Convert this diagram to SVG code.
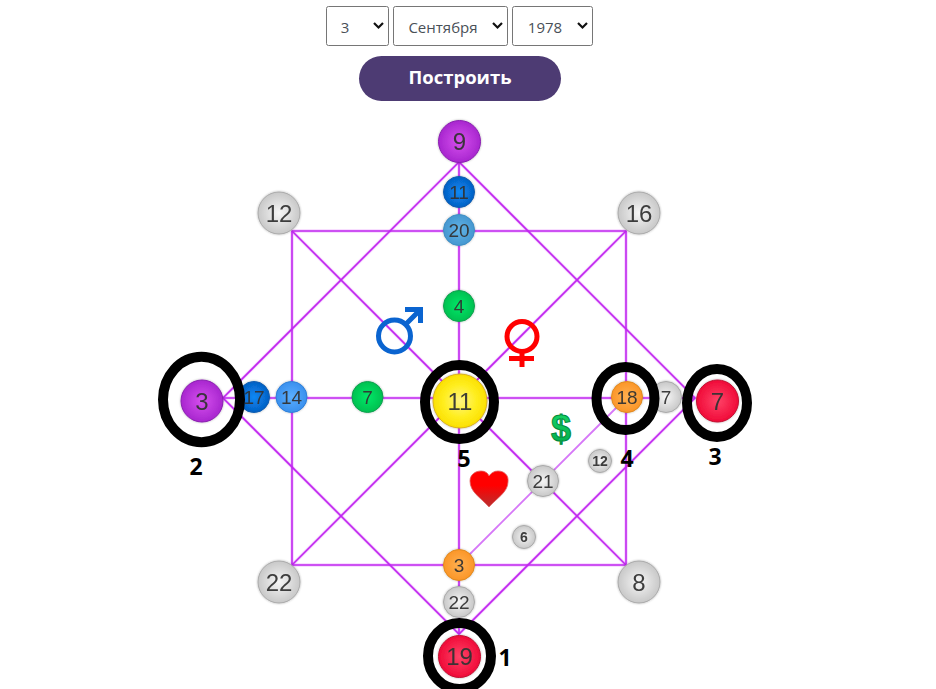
<svg xmlns="http://www.w3.org/2000/svg" width="936" height="689" viewBox="0 0 936 689">
<style>
text{font-family:"Liberation Sans",Arial,sans-serif;text-anchor:middle}
.sel{fill:#fff;stroke:#767676;stroke-width:1}
.st{font-family:"Open Sans",sans-serif;font-size:15px;fill:#495057}
.chev{fill:none;stroke:#111;stroke-width:2.2}
.btn{font-family:"Open Sans",sans-serif;font-weight:700;font-size:18.500px;fill:#fff}
.n{fill:#333;fill-opacity:.95}
.ring{fill:none;stroke:#000;stroke-width:10}
.lab{font-family:"Open Sans",sans-serif;font-weight:700;font-size:23px;fill:#000}
.l{stroke:#c026ef;stroke-width:1.600;fill:none}
.h{stroke:#e070ff;stroke-width:3.500;fill:none;opacity:.3}
.ball{stroke-width:1}
.gray{fill:url(#gGray);stroke:#aaa}
.purple{fill:url(#gPurple);stroke:#8a1fb0}
.blue{fill:url(#gBlue);stroke:#0a5cb0}
.lblue{fill:url(#gLBlue);stroke:#2f80d8}
.sblue{fill:url(#gSBlue);stroke:#3f8fc4}
.green{fill:url(#gGreen);stroke:#10a050}
.yellow{fill:url(#gYellow);stroke:#d8b020}
.orange{fill:url(#gOrange);stroke:#e08a20}
.red{fill:url(#gRed);stroke:#c01030}
</style>
<defs>
<radialGradient id="gGray"><stop offset="0" stop-color="#f6f6f6"/><stop offset="1" stop-color="#c8c8c8"/></radialGradient>
<radialGradient id="gPurple"><stop offset="0" stop-color="#d650ee"/><stop offset="1" stop-color="#a826cf"/></radialGradient>
<radialGradient id="gBlue"><stop offset="0" stop-color="#0a88f4"/><stop offset="1" stop-color="#0560c4"/></radialGradient>
<radialGradient id="gLBlue"><stop offset="0" stop-color="#5aaeff"/><stop offset="1" stop-color="#3a90ee"/></radialGradient>
<radialGradient id="gSBlue"><stop offset="0" stop-color="#62b4e6"/><stop offset="1" stop-color="#4597d0"/></radialGradient>
<radialGradient id="gGreen"><stop offset="0" stop-color="#00e868"/><stop offset="1" stop-color="#00c050"/></radialGradient>
<radialGradient id="gYellow"><stop offset="0" stop-color="#fff480"/><stop offset=".6" stop-color="#ffee20"/><stop offset="1" stop-color="#fbe000"/></radialGradient>
<radialGradient id="gOrange"><stop offset="0" stop-color="#ffb050"/><stop offset="1" stop-color="#fb9628"/></radialGradient>
<radialGradient id="gRed"><stop offset="0" stop-color="#ff4468"/><stop offset="1" stop-color="#f00a38"/></radialGradient>
<linearGradient id="gHeart" x1="0" y1="0" x2="0" y2="1"><stop offset=".4" stop-color="#ff0000"/><stop offset="1" stop-color="#b83030"/></linearGradient>
<linearGradient id="gDollar" x1="0" y1="0" x2="0" y2="1"><stop offset="0" stop-color="#18d868"/><stop offset="1" stop-color="#00a848"/></linearGradient>
<filter id="sh" x="-20%" y="-20%" width="140%" height="140%"><feDropShadow dx="0" dy="0" stdDeviation="1" flood-color="#000" flood-opacity=".3"/></filter>
</defs>

<g id="form">
<rect class="sel" x="326.500" y="6.500" width="62" height="39" rx="2"/>
<text class="st" x="345" y="33">3</text><path class="chev" d="M374 23l4.500 4.500 4.500-4.500"/>
<rect class="sel" x="393.500" y="6.500" width="114" height="39" rx="2"/>
<text class="st" x="443" y="33">Сентября</text><path class="chev" d="M493 23l4.500 4.500 4.500-4.500"/>
<rect class="sel" x="512.500" y="6.500" width="80" height="39" rx="2"/>
<text class="st" x="545" y="33">1978</text><path class="chev" d="M578 23l4.500 4.500 4.500-4.500"/>
</g>
<g id="button">
<rect x="359" y="56" width="202" height="45" rx="22.500" fill="#4d3b73"/>
<text class="btn" x="460" y="84">Построить</text>
</g>

<g id="connectors">
<path class="h" d="M292 231H626V565H292Z"/>
<path class="h" d="M459 162L223 398L459 634L695 398Z"/>
<path class="h" d="M292 231L626 565M626 231L292 565M459 162V634M223 398H695"/>
<path class="l" d="M292 231H626V565H292Z"/>
<path class="l" d="M459 162L223 398L459 634L695 398Z"/>
<path class="l" d="M292 231L626 565M626 231L292 565M459 162V634M223 398H695"/>
<path d="M459 565L626 398" stroke="#d678f7" stroke-width="1.800" fill="none"/>
</g>

<g id="n-9" class="ball" filter="url(#sh)"><circle class="purple" cx="459.500" cy="141.500" r="21"/><text class="n" x="459.500" y="150" font-size="24">9</text></g>
<g id="n-11a" class="ball" filter="url(#sh)"><circle class="blue" cx="459" cy="192" r="15.500"/><text class="n" x="459" y="199" font-size="19">11</text></g>
<g id="n-20" class="ball" filter="url(#sh)"><circle class="sblue" cx="459" cy="230" r="15.500"/><text class="n" x="459" y="237" font-size="19">20</text></g>
<g id="n-12" class="ball" filter="url(#sh)"><circle class="gray" cx="279" cy="213" r="21"/><text class="n" x="279" y="222" font-size="24">12</text></g>
<g id="n-16" class="ball" filter="url(#sh)"><circle class="gray" cx="639" cy="213" r="21"/><text class="n" x="639" y="222" font-size="24">16</text></g>
<g id="n-4" class="ball" filter="url(#sh)"><circle class="green" cx="459" cy="306" r="15.500"/><text class="n" x="459" y="313" font-size="19">4</text></g>
<g id="n-3l" class="ball" filter="url(#sh)"><circle class="purple" cx="202" cy="401" r="21"/><text class="n" x="202" y="410" font-size="24">3</text></g>
<g id="n-17" class="ball" filter="url(#sh)"><circle class="blue" cx="254" cy="397" r="15.500"/><text class="n" x="254" y="404" font-size="19">17</text></g>
<g id="n-14" class="ball" filter="url(#sh)"><circle class="lblue" cx="291.500" cy="397" r="15.500"/><text class="n" x="291.500" y="404" font-size="19">14</text></g>
<g id="n-7g" class="ball" filter="url(#sh)"><circle class="green" cx="367.500" cy="397" r="15.500"/><text class="n" x="367.500" y="404" font-size="19">7</text></g>
<g id="n-11c" class="ball" filter="url(#sh)"><circle class="yellow" cx="460" cy="401" r="27"/><text class="n" x="460" y="410" font-size="24">11</text></g>
<g id="n-18" class="ball" filter="url(#sh)"><circle class="orange" cx="627" cy="397" r="15.500"/><text class="n" x="627" y="404" font-size="19">18</text></g>
<g id="n-7s" class="ball" filter="url(#sh)"><circle class="gray" cx="666" cy="397" r="15.500"/><text class="n" x="666" y="404" font-size="19">7</text></g>
<g id="n-7r" class="ball" filter="url(#sh)"><circle class="red" cx="717.500" cy="401" r="21"/><text class="n" x="717.500" y="410" font-size="24">7</text></g>
<g id="n-21" class="ball" filter="url(#sh)"><circle class="gray" cx="543" cy="481" r="15.500"/><text class="n" x="543" y="488" font-size="19">21</text></g>
<g id="n-12s" class="ball" filter="url(#sh)"><circle class="gray" cx="600" cy="461" r="11.500"/><text class="n" x="600" y="466" font-size="14" font-weight="700">12</text></g>
<g id="n-6" class="ball" filter="url(#sh)"><circle class="gray" cx="524" cy="537" r="11.500"/><text class="n" x="524" y="542" font-size="14" font-weight="700">6</text></g>
<g id="n-3o" class="ball" filter="url(#sh)"><circle class="orange" cx="459" cy="565" r="15.500"/><text class="n" x="459" y="572" font-size="19">3</text></g>
<g id="n-22s" class="ball" filter="url(#sh)"><circle class="gray" cx="459" cy="602" r="15.500"/><text class="n" x="459" y="609" font-size="19">22</text></g>
<g id="n-22" class="ball" filter="url(#sh)"><circle class="gray" cx="279" cy="582" r="21"/><text class="n" x="279" y="591" font-size="24">22</text></g>
<g id="n-8" class="ball" filter="url(#sh)"><circle class="gray" cx="639" cy="582" r="21"/><text class="n" x="639" y="591" font-size="24">8</text></g>
<g id="n-19" class="ball" filter="url(#sh)"><circle class="red" cx="459.500" cy="656.500" r="21"/><text class="n" x="459.500" y="665" font-size="24">19</text></g>

<g id="symbols">
<g id="male" fill="none" stroke="#0a64d0" stroke-width="5"><circle cx="394.500" cy="336" r="16"/><path d="M405.500 324.500L420.500 309.500M405 309.500H420.500V323"/></g>
<g id="female" fill="none" stroke="#ff0000" stroke-width="5"><circle cx="522" cy="336.500" r="15"/><path d="M522 352V367M509 358.500H534"/></g>
<text id="dollar" x="561" y="441" font-size="36" font-weight="700" fill="url(#gDollar)" stroke="#008a3c" stroke-width="1">$</text>
<path id="heart" d="M489 507C480 497 470 492 470 481C470 474 476 471 481 471C485 471 488 473 489 476C491 473 494 471 498 471C504 471 509 475 508 482C508 492 497 498 489 507Z" fill="url(#gHeart)" stroke="#e06060" stroke-width=".8"/>
</g>

<g id="rings">
<ellipse class="ring" cx="201.500" cy="399.500" rx="38.500" ry="42.700"/>
<ellipse class="ring" cx="459.500" cy="402" rx="34.500" ry="37"/>
<ellipse class="ring" cx="625.500" cy="398.500" rx="29" ry="31.500"/>
<ellipse class="ring" cx="717" cy="403" rx="30" ry="34"/>
<ellipse class="ring" cx="459.500" cy="656" rx="31.500" ry="33"/>
</g>
<g id="labels">
<text class="lab" x="196" y="475">2</text>
<text class="lab" x="464" y="467">5</text>
<text class="lab" x="627" y="467">4</text>
<text class="lab" x="715" y="465">3</text>
<text class="lab" x="505" y="666">1</text>
</g>
</svg>
